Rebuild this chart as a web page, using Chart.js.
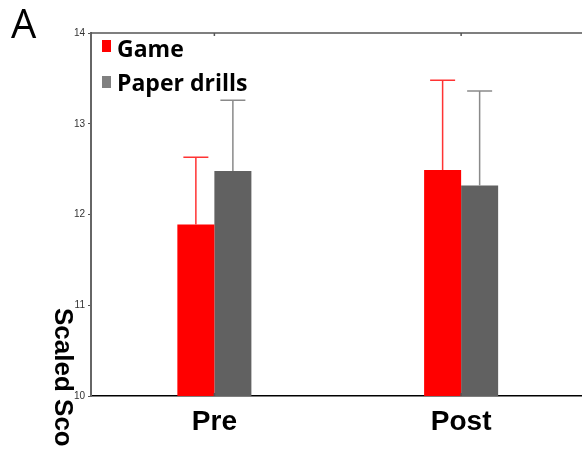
<!DOCTYPE html>
<html>
<head>
<meta charset="utf-8">
<script src="https://cdn.jsdelivr.net/npm/chart.js@4/dist/chart.umd.min.js"></script>
<style>
  html, body { margin: 0; padding: 0; background: #fff; overflow: hidden; }
  #wrap { width: 600px; height: 456px; }
</style>
</head>
<body>
<div id="wrap"><canvas id="chart" width="600" height="456"></canvas></div>
<script>
const categories  = ["Pre", "Post"];
const seriesNames = ["Game", "Paper drills"];
const gameMeans   = [11.89, 12.49];
const gameUpper   = [12.63, 13.48];
const paperMeans  = [12.48, 12.32];
const paperUpper  = [13.26, 13.36];
const yMin = 10, yMax = 14;
const yTitle = "Scaled Sco";

const BAR_COLORS    = ["#ff0000", "#616161"];
const LEGEND_COLORS = ["#ff0000", "#808080"];
const ERR_COLORS    = ["#ff3333", "#8a8a8a"];

// upward error bars from bar top to upper value
const errorBars = {
  id: "errorBars",
  afterDatasetsDraw(chart) {
    const { ctx, scales: { y } } = chart;
    chart.data.datasets.forEach((ds, di) => {
      const meta = chart.getDatasetMeta(di);
      meta.data.forEach((bar, i) => {
        const top = y.getPixelForValue(ds.upper[i]);
        ctx.save();
        ctx.strokeStyle = ERR_COLORS[di];
        ctx.lineWidth = 1.5;
        ctx.beginPath();
        ctx.moveTo(bar.x, bar.y);
        ctx.lineTo(bar.x, top);
        ctx.moveTo(bar.x - 12.5, top);
        ctx.lineTo(bar.x + 12.5, top);
        ctx.stroke();
        ctx.restore();
      });
    });
  }
};

// top frame line, panel letter, legend, rotated y title
const decorations = {
  id: "decorations",
  afterDraw(chart) {
    const { ctx, chartArea: a, scales: { x } } = chart;
    ctx.save();
    ctx.strokeStyle = "#555";
    ctx.lineWidth = 1.5;
    ctx.beginPath();
    ctx.moveTo(a.left, a.top);
    ctx.lineTo(a.right, a.top);
    categories.forEach((c, i) => {
      const px = x.getPixelForValue(i);
      ctx.moveTo(px, a.top);
      ctx.lineTo(px, a.top + 3);
      ctx.moveTo(px, a.bottom);
      ctx.lineTo(px, a.bottom - 3);
    });
    ctx.stroke();

    ctx.fillStyle = "#000";
    ctx.font = "40px 'Open Sans'";
    ctx.textBaseline = "alphabetic";
    ctx.fillText("A", 11, 38);

    ctx.font = "bold 23px 'Open Sans'";
    const baselines = [57, 91];
    const boxTops = [40, 76];
    seriesNames.forEach((name, i) => {
      ctx.fillStyle = LEGEND_COLORS[i];
      ctx.fillRect(102, boxTops[i], 9, 12);
      ctx.fillStyle = "#000";
      ctx.fillText(name, 117, baselines[i]);
    });

    ctx.translate(55, 308);
    ctx.rotate(Math.PI / 2);
    ctx.font = "bold 26px 'Liberation Sans'";
    ctx.fillText(yTitle, 0, 0);
    ctx.restore();
  }
};

new Chart(document.getElementById("chart"), {
  type: "bar",
  data: {
    labels: categories,
    datasets: [
      { label: seriesNames[0], data: gameMeans, upper: gameUpper, backgroundColor: BAR_COLORS[0] },
      { label: seriesNames[1], data: paperMeans, upper: paperUpper, backgroundColor: BAR_COLORS[1] },
    ],
  },
  options: {
    responsive: false,
    animation: false,
    categoryPercentage: 0.3,
    barPercentage: 1.0,
    layout: { padding: { left: 0, top: 33, right: 15.5, bottom: 0 } },
    plugins: { legend: { display: false }, tooltip: { enabled: false } },
    scales: {
      x: {
        grid: { display: false },
        border: { display: true, color: "#000", width: 1.5 },
        ticks: {
          color: "#000",
          padding: 1,
          font: { family: "'Liberation Sans'", size: 28, weight: "bold" },
        },
        afterFit: s => { s.height = 60; },
      },
      y: {
        min: yMin,
        max: yMax,
        grid: { display: true, drawOnChartArea: false, drawTicks: true, tickLength: 3, color: "#555" },
        border: { display: true, color: "#666", width: 2 },
        ticks: {
          stepSize: 1,
          color: "#333",
          padding: 3,
          font: { family: "'Liberation Sans'", size: 10 },
        },
        afterFit: s => { s.width = 91; },
      },
    },
  },
  plugins: [errorBars, decorations],
});
</script>
</body>
</html>
